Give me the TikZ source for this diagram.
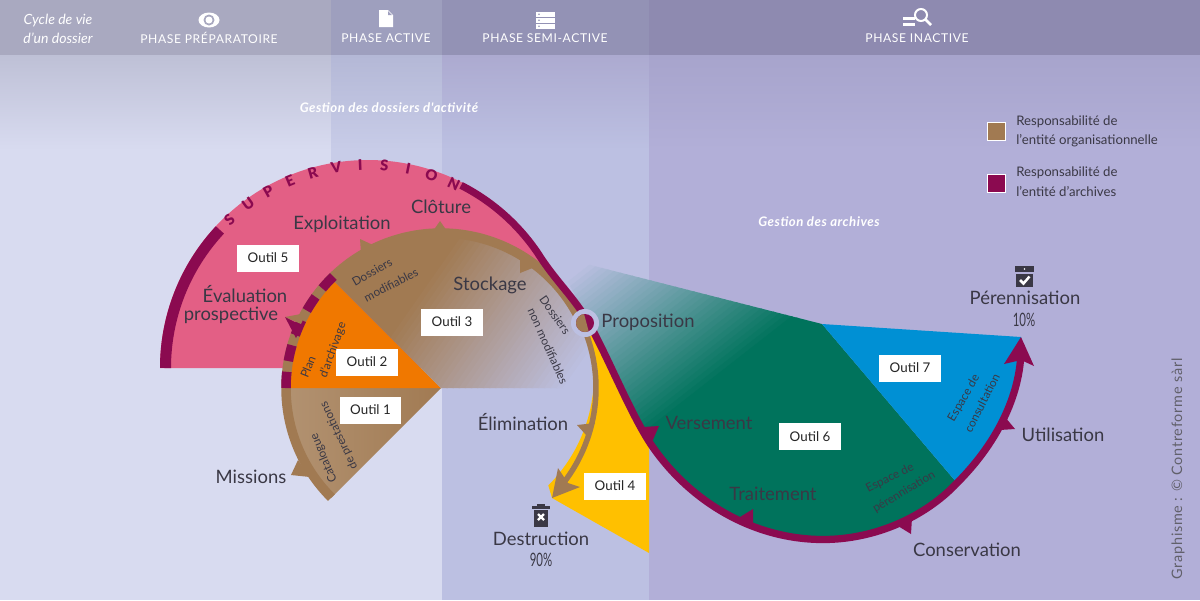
\documentclass[tikz,border=0pt]{standalone}
\usepackage{fontspec}
\setmainfont{Lato}
\newfontfamily\phasefont[LetterSpace=5]{Lato}
\newfontfamily\gestfont[LetterSpace=4]{Lato}
\newfontfamily\superfont{Lato Black}
\usepackage{tikz}
\usetikzlibrary{calc}
\tikzset{>=stealth}

\definecolor{inkdark}{HTML}{3A3845}
\definecolor{maroon}{HTML}{8B0A50}
\definecolor{brownbar}{HTML}{A17A52}
\definecolor{pinkzone}{HTML}{E35F85}
\definecolor{orangezone}{HTML}{F07800}
\definecolor{greenzone}{HTML}{00735C}
\definecolor{bluezone}{HTML}{0090D4}
\definecolor{yellowzone}{HTML}{FFC000}
\definecolor{colA}{HTML}{D8DBF0}
\definecolor{colB}{HTML}{C8CCE8}
\definecolor{colC}{HTML}{BCC0E2}
\definecolor{colD}{HTML}{B2AFD8}
\definecolor{topA}{HTML}{BEC0D6}
\definecolor{topB}{HTML}{B4B8D6}
\definecolor{topC}{HTML}{ACAAD0}
\definecolor{topD}{HTML}{A7A4CC}
\definecolor{headA}{HTML}{A9A9C0}
\definecolor{headB}{HTML}{9E9FBE}
\definecolor{headC}{HTML}{9392B5}
\definecolor{headD}{HTML}{8E8AB0}

\tikzset{
  biglabel/.style={text=inkdark,font=\fontsize{10.5}{12}\selectfont,inner sep=0pt},
  smalllabel/.style={text=inkdark,font=\fontsize{6.7}{8}\selectfont,inner sep=0pt},
  outilbox/.style={fill=white,text=black!85,font=\fontsize{7.6}{9}\selectfont,minimum width=1.24cm,minimum height=.54cm,inner sep=0pt},
  phaselabel/.style={text=white,font=\phasefont\fontsize{6.9}{8}\selectfont,inner sep=0pt},
  headnote/.style={text=white,font=\itshape\fontsize{8}{9}\selectfont,inner sep=0pt},
  gestionlabel/.style={text=white,font=\gestfont\bfseries\itshape\fontsize{7.5}{9}\selectfont,inner sep=0pt},
  legendlabel/.style={text=inkdark,font=\fontsize{7.5}{9}\selectfont,inner sep=0pt,anchor=west},
  ringwide/.style={draw=brownbar,line width=.19cm},
  ringthin/.style={draw=brownbar,line width=.11cm},
  curvebar/.style={draw=maroon,line width=.145cm},
}

\def\curveBD{.. controls (690,503) and (755,539.5) .. (823,539.5)}
\def\curveDE{.. controls (875,539.5) and (925,517) .. (957,483)}
\def\curveEF{.. controls (1000,440) and (1022,390) .. (1021,345)}

\begin{document}
\begin{tikzpicture}[x=.02cm,y=-.02cm]
  \useasboundingbox (0,0) rectangle (1200,600);

  % columns
  \foreach \xa/\xb/\yb/\tp/\bt/\hd in {0/442/600/topA/colA/headA,331/442/388/topB/colB/headB,442/649/600/topC/colC/headC,649/1200/600/topD/colD/headD}{
    \fill[\bt] (\xa,150) rectangle (\xb,\yb);
    \shade[top color=\tp,bottom color=\bt] (\xa,55) rectangle (\xb,150);
    \fill[\hd] (\xa,0) rectangle (\xb,55);
  }

  \coordinate (disc) at (441,388);
  \coordinate (pinkc) at (368,368);

  % teal and green
  \begin{scope}
    \clip (555,256)--(822,324)--(957,483) .. controls (925,517) and (875,539.5) .. (823,539.5)
      .. controls (755,539.5) and (690,503) .. (650,443) .. controls (630,412) and (610,362) .. (590,325)--cycle;
    \begin{scope}[shift={(572,272)},rotate=-52]
      \fill[colC] (-100,-500) rectangle (1,500);
      \foreach \k in {0,...,34}{
        \pgfmathsetmacro{\mixval}{100*\k/34}
        \fill[greenzone!\mixval!colC] (\k*5,-500) rectangle (\k*5+6,500);
      }
      \fill[greenzone] (174,-500) rectangle (700,500);
    \end{scope}
  \end{scope}
  \fill[bluezone] (822,324)--(1021,337)--(1021,345) .. controls (1022,390) and (1000,440) .. (957,483)--cycle;

  % yellow
  \fill[yellowzone] (552,498)--(649,553)--(649,443) .. controls (630,412) and (610,362) .. (590,325)--(590,340)
     arc[start angle=-13,end angle=45,radius=156];

  % pink
  \fill[pinkzone] (160,368) arc[start angle=180,end angle=326,radius=208] .. controls (556,282) and (575,298) .. (590,325)--(441,388)--(441,368)--cycle;
  \draw[maroon,line width=.22cm] ($(pinkc)+(180:202.5)$) arc[start angle=180,end angle=223,radius=202.5];
  \foreach \i/\ltr in {0/S,1/U,2/P,3/E,4/R,5/V,6/I,7/S,8/I,9/O,10/N}{
    \node[text=maroon,font=\superfont\fontsize{8.4}{9}\selectfont,inner sep=0pt,rotate={-(227+6.8*\i)-90+360}] (super\i) at ($(pinkc)+({227+6.8*\i}:203)$) {\ltr};
  }

  % disc sectors
  \shade[left color=brownbar!82!white,right color=brownbar] (disc) -- ($(disc)+(135:155)$) arc[start angle=135,end angle=180,radius=155] -- cycle;
  \fill[orangezone] (disc) -- ($(disc)+(180:155)$) arc[start angle=180,end angle=225,radius=155] -- cycle;
  \begin{scope}
    \clip (disc) -- ($(disc)+(225:155)$) arc[start angle=225,end angle=360,radius=155] -- cycle;
    \begin{scope}[shift={(412,298)},rotate=-35]
      \fill[brownbar] (-300,-400) rectangle (1,400);
      \foreach \k in {0,...,35}{
        \pgfmathsetmacro{\mixval}{100*\k/35}
        \fill[colC!\mixval!brownbar] (\k*5,-400) rectangle (\k*5+6,400);
      }
      \fill[colC] (179,-400) rectangle (500,400);
    \end{scope}
  \end{scope}

  % ring
  \draw[ringwide] ($(disc)+(135:155)$) arc[start angle=135,end angle=335,radius=155];
  \draw[ringthin] ($(disc)+(335:155)$) arc[start angle=335,end angle=400,radius=155];
  \foreach \a in {183,193,...,223}{
    \draw[maroon,line width=.19cm] ($(disc)+(\a-3:155)$) arc[start angle=\a-3,end angle=\a+3,radius=155];
  }

  % maroon curve
  \draw[curvebar] ($(pinkc)+(297:205)$) arc[start angle=297,end angle=326,radius=205] .. controls (556,282) and (575,298) .. (590,325)
     .. controls (610,362) and (630,412) .. (650,443) \curveBD \curveDE \curveEF;

  % arrow heads
  \foreach \pa/\pb/\pc in {{360,239}/{373,245}/{361,253},{440,221}/{447,231}/{433,231},{535,267}/{520,255}/{520,273},{577,425}/{595,423}/{587,436},{298,460}/{291,475}/{310,477},{285,317}/{306,313}/{301,324}}{
    \fill[brownbar] (\pa)--(\pb)--(\pc)--cycle;
  }
  \fill[brownbar] (552,498)--(558,468)--(568,483)--(580,487)--cycle;
  \foreach \pa/\pb/\pc in {{643,427}/{659,426}/{652,442},{740,517}/{753,509}/{753,525},{898,526}/{912,518}/{911,534},{1000,430}/{1005,417}/{1015,429},{285,317}/{303,326}/{296,338}}{
    \fill[maroon] (\pa)--(\pb)--(\pc)--cycle;
  }
  \fill[maroon] (1021,337)--(1004,364)--(1021,360)--(1034,366)--cycle;

  % proposition marker
  \fill[colC] (585,323) circle (14);
  \begin{scope}
    \clip (585,323) circle (9);
    \fill[maroon] (570,310) rectangle (600,340);
    \fill[brownbar] (570,310)--(583,310)--(591,340)--(570,340)--cycle;
  \end{scope}

  % header
  \node[headnote] (cycleA) at (58,21) {Cycle de vie};
  \node[headnote] (cycleB) at (58,38) {d'un dossier};
  \node[phaselabel] (prep) at (209,38) {PHASE PRÉPARATOIRE};
  \node[phaselabel] (active) at (386,38) {PHASE ACTIVE};
  \node[phaselabel] (semi) at (545,38) {PHASE SEMI-ACTIVE};
  \node[phaselabel] (inactive) at (917,38) {PHASE INACTIVE};

  % icons
  \fill[white] (209,20) ellipse (10.5 and 7.5);
  \fill[headA] (209,20) circle (5.5);
  \fill[white] (209,20) circle (3.5);
  \fill[white] (379,10)--(388,10)--(393,15)--(393,27)--(379,27)--cycle;
  \fill[headB] (388,11)--(392,15)--(388,15)--cycle;
  \foreach \y in {12,18,24}{
    \fill[white] (536,\y) rectangle (555,\y+4.5);
    \fill[headC] (539,\y+2.2) circle (.9);
  }
  \foreach \y in {16.5,22.5}{
    \fill[white] (903,\y) rectangle (915,\y+3.5);
  }
  \draw[white,line width=.04cm] (921,15) circle (6);
  \draw[white,line width=.05cm] (925.5,19.5)--(931,25);

  \node[gestionlabel] (gestA) at (389,108) {Gestion des dossiers d'activité};
  \node[gestionlabel] (gestB) at (819,222) {Gestion des archives};

  % legend
  \fill[brownbar,draw=white,line width=.02cm] (987,122) rectangle (1005,140);
  \fill[maroon,draw=white,line width=.02cm] (987,174) rectangle (1005,192);
  \node[legendlabel] (legA) at (1016,122) {Responsabilité de};
  \node[legendlabel] (legB) at (1016,141) {l'entité organisationnelle};
  \node[legendlabel] (legC) at (1016,173) {Responsabilité de};
  \node[legendlabel] (legD) at (1016,192) {l'entité d'archives};

  % big labels
  \node[biglabel] (expl) at (342,224) {Exploitation};
  \node[biglabel] (clot) at (441,207) {Clôture};
  \node[biglabel] (stock) at (490,285) {Stockage};
  \node[biglabel] (evalA) at (245,294) {Évaluation};
  \node[biglabel] (evalB) at (231,315) {prospective};
  \node[biglabel] (miss) at (251,477) {Missions};
  \node[biglabel] (prop) at (648,322) {Proposition};
  \node[biglabel] (elim) at (523,422) {Élimination};
  \node[biglabel] (destr) at (541,539) {Destruction};
  \node[biglabel] (dpct) at (541,560) {\scalebox{.62}[1]{90\%}};
  \node[biglabel] (vers) at (709,423) {Versement};
  \node[biglabel] (trait) at (773,494) {Traitement};
  \node[biglabel] (cons) at (967,550) {Conservation};
  \node[biglabel] (util) at (1063,435) {Utilisation};
  \node[biglabel] (peren) at (1025,298) {Pérennisation};
  \node[biglabel] (ppct) at (1024,320) {\scalebox{.62}[1]{10\%}};

  % trash and archive icons
  \fill[inkdark] (532,506) rectangle (550,508.5);
  \fill[inkdark] (537,504) rectangle (545,506);
  \fill[inkdark] (534,509.5)--(548,509.5)--(548,527)--(534,527)--cycle;
  \draw[white,line width=.045cm] (538,514)--(544,520) (544,514)--(538,520);
  \fill[inkdark] (1015,266) rectangle (1034,272);
  \fill[white] (1024.5,269) circle (.8);
  \fill[inkdark] (1016,274) rectangle (1033,287);
  \draw[white,line width=.05cm] (1020,280)--(1023.5,283.5)--(1029.5,276.5);

  % tools
  \node[outilbox] (outilA) at (370.5,410) {Outil 1};
  \node[outilbox] (outilB) at (367,362) {Outil 2};
  \node[outilbox] (outilC) at (452,322) {Outil 3};
  \node[outilbox] (outilD) at (615,486) {Outil 4};
  \node[outilbox] (outilE) at (268,258) {Outil 5};
  \node[outilbox] (outilF) at (810,436.5) {Outil 6};
  \node[outilbox] (outilG) at (910,368) {Outil 7};

  % rotated notes
  \node[smalllabel,rotate=113] (catA) at (324,458) {Catalogue};
  \node[smalllabel,rotate=115] (catB) at (339,436) {de prestations};
  \node[smalllabel,rotate=68] (planA) at (308,367) {Plan};
  \node[smalllabel,rotate=70] (planB) at (333,350) {d'archivage};
  \node[smalllabel,rotate=30] (dosA) at (372,272) {Dossiers};
  \node[smalllabel,rotate=27] (dosB) at (391,285) {modifiables};
  \node[smalllabel,rotate=-55] (nonA) at (555,315) {Dossiers};
  \node[smalllabel,rotate=-66] (nonB) at (548,346) {non modifiables};
  \node[smalllabel,rotate=27] (espA) at (890,478) {Espace de};
  \node[smalllabel,rotate=31] (espB) at (904,492) {pérennisation};
  \node[smalllabel,rotate=60] (conA) at (964,398) {Espace de};
  \node[smalllabel,rotate=63] (conB) at (982,403) {consultation};

  \node[text=inkdark!80,font=\phasefont\fontsize{8.2}{9}\selectfont,rotate=90,inner sep=0pt] (credit) at (1178,469) {Graphisme : © Contreforme sàrl};
\end{tikzpicture}
\end{document}
